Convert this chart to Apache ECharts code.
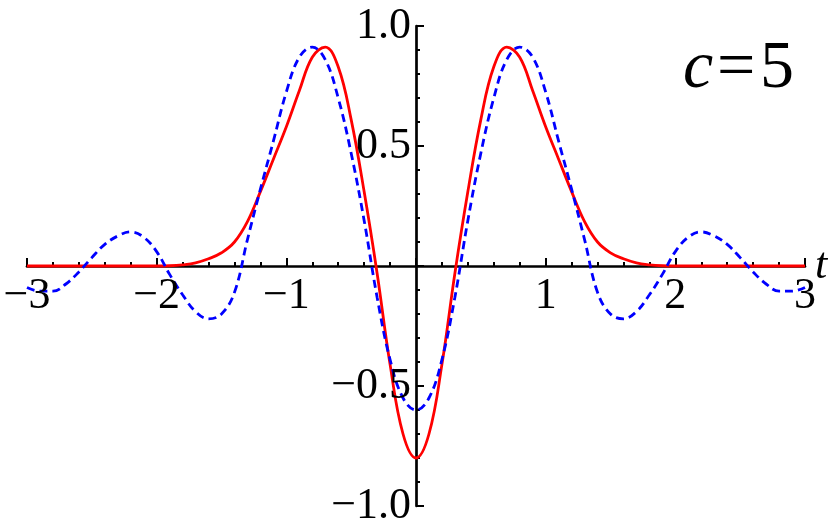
<!DOCTYPE html>
<html>
<head>
<meta charset="utf-8">
<script src="https://cdn.jsdelivr.net/npm/echarts@6/dist/echarts.min.js"></script>
<style>html,body{margin:0;padding:0;background:#fff}#c{width:830px;height:532px}</style>
</head>
<body>
<div id="c"></div>
<script>
var tValues = [-3.0,-2.9,-2.8,-2.7,-2.6,-2.5,-2.4,-2.3,-2.2,-2.1,-2.0,-1.9,-1.8,-1.7,-1.6,-1.5,-1.4,-1.3,-1.2,-1.1,-1.0,-0.9,-0.8,-0.7,-0.6,-0.5,-0.4,-0.3,-0.2,-0.1,0.0,0.1,0.2,0.3,0.4,0.5,0.6,0.7,0.8,0.9,1.0,1.1,1.2,1.3,1.4,1.5,1.6,1.7,1.8,1.9,2.0,2.1,2.2,2.3,2.4,2.5,2.6,2.7,2.8,2.9,3.0];
var redValues = [0,0,0,0,0,0,0,0,0,0,0,0.001,0.005,0.013,0.03,0.055,0.10,0.185,0.31,0.445,0.58,0.73,0.87,0.912,0.83,0.61,0.31,-0.03,-0.41,-0.70,-0.80,-0.70,-0.41,-0.03,0.31,0.61,0.83,0.912,0.87,0.73,0.58,0.445,0.31,0.185,0.10,0.055,0.03,0.013,0.005,0.001,0,0,0,0,0,0,0,0,0,0,0];
var blueValues = [-0.09,-0.105,-0.105,-0.075,-0.025,0.035,0.09,0.125,0.142,0.12,0.06,-0.035,-0.12,-0.19,-0.22,-0.20,-0.11,0.11,0.32,0.52,0.725,0.87,0.912,0.86,0.70,0.47,0.19,-0.13,-0.39,-0.55,-0.60,-0.55,-0.39,-0.13,0.19,0.47,0.70,0.86,0.912,0.87,0.725,0.52,0.32,0.11,-0.11,-0.20,-0.22,-0.19,-0.12,-0.035,0.06,0.12,0.142,0.125,0.09,0.035,-0.025,-0.075,-0.105,-0.105,-0.09];
var xTicks = [-3,-2,-1,1,2,3];
var yTicks = [-1.0,-0.5,0.5,1.0];
var annotationVar = 'c';
var annotationRest = ['=', '5'];

function pairs(xs, ys){ return xs.map(function(x,i){ return [x, ys[i]]; }); }
function minus(s){ return String(s).replace('-', '\u2212'); }

var FONT = '"Liberation Serif", "Times New Roman", serif';
var chart = echarts.init(document.getElementById('c'), null, {renderer:'canvas'});
chart.setOption({
  animation: false,
  backgroundColor: '#fff',
  grid: {left: 27, right: 25, top: 26, bottom: 26, containLabel: false, outerBoundsMode: 'none'},
  xAxis: {
    type: 'value', min: -3, max: 3, interval: 1,
    name: 't', nameLocation: 'end', nameGap: 10,
    nameTextStyle: {fontFamily: 'Liberation Serif', fontStyle: 'italic', fontSize: 44, color: '#000', verticalAlign: 'middle'},
    axisLine: {onZero: true, lineStyle: {color: '#000', width: 2.7}},
    axisTick: {inside: true, length: 8, lineStyle: {color: '#000', width: 2}},
    minorTick: {show: true, splitNumber: 5, length: 4, lineStyle: {color: '#000', width: 2}},
    splitLine: {show: false},
    axisLabel: {show: false}
  },
  yAxis: {
    type: 'value', min: -1, max: 1, interval: 0.5,
    axisLine: {onZero: true, lineStyle: {color: '#000', width: 2.7}},
    axisTick: {inside: true, length: 8, lineStyle: {color: '#000', width: 2}},
    minorTick: {show: true, splitNumber: 5, length: 4, lineStyle: {color: '#000', width: 2}},
    splitLine: {show: false},
    axisLabel: {show: false}
  },
  series: [
    {type: 'line', data: pairs(tValues, redValues), smooth: 0.4, symbol: 'none',
     lineStyle: {color: '#ff0000', width: 2.8}, z: 2},
    {type: 'line', data: pairs(tValues, blueValues), smooth: 0.4, symbol: 'none',
     lineStyle: {color: '#0000ff', width: 2.8, type: [8, 5]}, z: 3}
  ]
});

var g = [];
xTicks.forEach(function(v){
  var p = chart.convertToPixel({gridIndex: 0}, [v, 0]);
  g.push({type: 'text', x: p[0], y: p[1] + 30, z: 10,
    style: {text: minus(v), font: '44px ' + FONT, fill: '#000', align: 'center', verticalAlign: 'middle'}});
});
yTicks.forEach(function(v){
  var p = chart.convertToPixel({gridIndex: 0}, [0, v]);
  g.push({type: 'text', x: p[0] - 5, y: p[1], z: 10,
    style: {text: minus(v.toFixed(1)), font: '44px ' + FONT, fill: '#000', align: 'right', verticalAlign: 'middle'}});
});
g.push({type: 'text', x: 683, y: 69, z: 10,
  style: {text: annotationVar, font: 'italic 68px ' + FONT, fill: '#000', align: 'left', verticalAlign: 'middle'}});
g.push({type: 'text', x: 717, y: 69, z: 10,
  style: {text: annotationRest[0], font: '68px ' + FONT, fill: '#000', align: 'left', verticalAlign: 'middle'}});
g.push({type: 'text', x: 760, y: 69, z: 10,
  style: {text: annotationRest[1], font: '68px ' + FONT, fill: '#000', align: 'left', verticalAlign: 'middle'}});
chart.setOption({graphic: g});
</script>
</body>
</html>
